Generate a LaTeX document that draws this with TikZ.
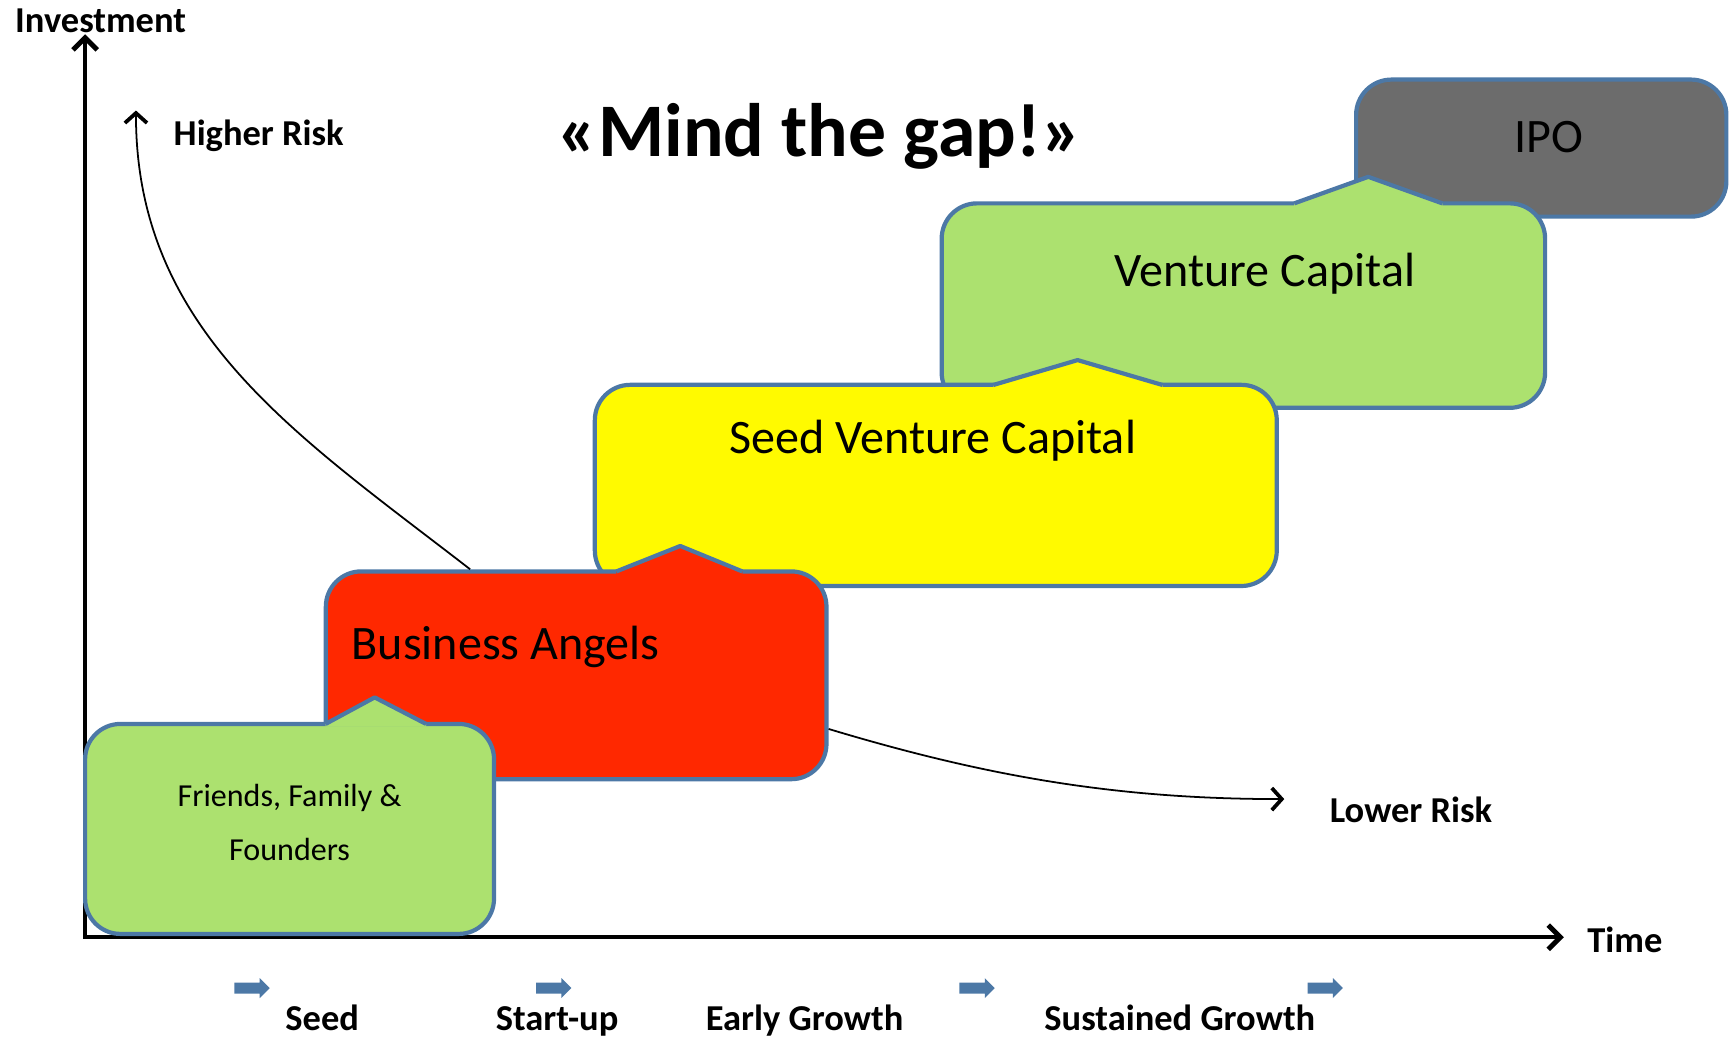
\documentclass[tikz,border=0pt]{standalone}
\usepackage{fontspec}
\setmainfont{Carlito}
\usetikzlibrary{arrows.meta}

\definecolor{stageblue}{RGB}{76,120,166}
\definecolor{stagegreen}{RGB}{172,225,111}
\definecolor{angelred}{RGB}{255,40,0}
\definecolor{seedyellow}{RGB}{255,250,0}
\definecolor{ipogray}{RGB}{108,108,108}

\tikzset{
  AxisTip/.tip={Straight Barb[length=11pt,width=22pt,line width=4.5pt 0]},
  RiskTip/.tip={Straight Barb[length=9pt,width=20pt,line width=3.4pt 0]},
  stage/.style={draw=stageblue, line width=3.8pt, rounded corners=32pt, inner sep=0pt},
  stage edge/.style={draw=stageblue, line width=3.8pt, line join=round},
  axis label/.style={font=\bfseries\fontsize{33}{40}\selectfont, inner sep=0pt},
  stage text/.style={font=\fontsize{43.5}{50}\selectfont, inner sep=0pt},
  risk/.style={line width=1.6pt, -RiskTip},
}

% the little peak on top of each stage box
\newcommand{\gapbump}[4]{%
  \fill[#1] ([yshift=-2.5pt]#2) -- (#2) -- (#3) -- (#4) -- ([yshift=-2.5pt]#4) -- cycle;
  \draw[stage edge] (#2) -- (#3) -- (#4);
}

\begin{document}
\begin{tikzpicture}[x=1pt, y=-1pt]
\useasboundingbox (0,0) rectangle (1568,938.3);

% axes
\coordinate (origin) at (77,848);
\coordinate (ytip) at (77,31);
\coordinate (xtip) at (1415,848);
\draw[line width=4pt, AxisTip-AxisTip] (ytip) -- (origin) -- (xtip);
\node[axis label, anchor=base] (investment) at (91,29) {Investment};
\node[axis label, anchor=base west] (time) at (1436,862) {Time};

% stages, back to front
\node[stage, fill=ipogray, minimum width=335pt, minimum height=124pt] (ipo) at (1394.5,134) {};
\node[stage text, anchor=base] (ipo-text) at (1401,138) {IPO};

\node[stage, fill=stagegreen, minimum width=546pt, minimum height=185pt] (vc) at (1125,276.5) {};
\gapbump{stagegreen}{1171,184}{1238,160}{1305,184}
\node[stage text, anchor=base] (vc-text) at (1144.5,259) {Venture Capital};

\node[stage, fill=seedyellow, minimum width=617pt, minimum height=182pt] (svc) at (846.7,439.2) {};
\gapbump{seedyellow}{898.5,348.4}{975,325.8}{1052,348.4}
\node[stage text, anchor=base] (svc-text) at (844,410) {Seed Venture Capital};

\node[stage, fill=angelred, minimum width=453pt, minimum height=188pt] (ba) at (521.3,611) {};
\gapbump{angelred}{557.7,517}{615.5,494}{671.6,517}
\node[stage text, anchor=base west] (ba-text) at (318,597) {Business Angels};

\node[stage, fill=stagegreen, minimum width=370pt, minimum height=190pt] (fff) at (262,750) {};
\gapbump{stagegreen}{294.6,655}{339,631}{385.5,655}
\node[font=\fontsize{29}{49}\selectfont, align=center, anchor=base, inner sep=0pt] (fff-text) at (262,779) {Friends, Family \&\\Founders};

% risk curves
\coordinate (hr-tip) at (123,100);
\coordinate (lr-tip) at (1162,723);
\draw[risk] (ba.135) .. controls (269,394) and (123,300) .. (hr-tip);
\draw[risk] (ba.-12.5) .. controls (894,703) and (1012,723) .. (lr-tip);
\node[axis label, anchor=base west] (higher) at (157,132) {Higher Risk};
\node[axis label, anchor=base west] (lower) at (1203,744) {Lower Risk};

\node[font=\bfseries\fontsize{68.5}{80}\selectfont, anchor=base, inner sep=0pt] (title) at (741.6,142) {«Mind the gap!»};

% phases
\foreach \x in {212,485,868,1183}
  \fill[stageblue] (\x,889) -- ++(23,0) -- ++(0,-4) -- ++(9,9) -- ++(-9,9) -- ++(0,-4) -- ++(-23,0) -- cycle;
\node[axis label, anchor=base] (seed) at (291.5,932) {Seed};
\node[axis label, anchor=base] (startup) at (504,932) {Start-up};
\node[axis label, anchor=base] (early) at (728,932) {Early Growth};
\node[axis label, anchor=base] (sustained) at (1067.5,932) {Sustained Growth};
\end{tikzpicture}
\end{document}
